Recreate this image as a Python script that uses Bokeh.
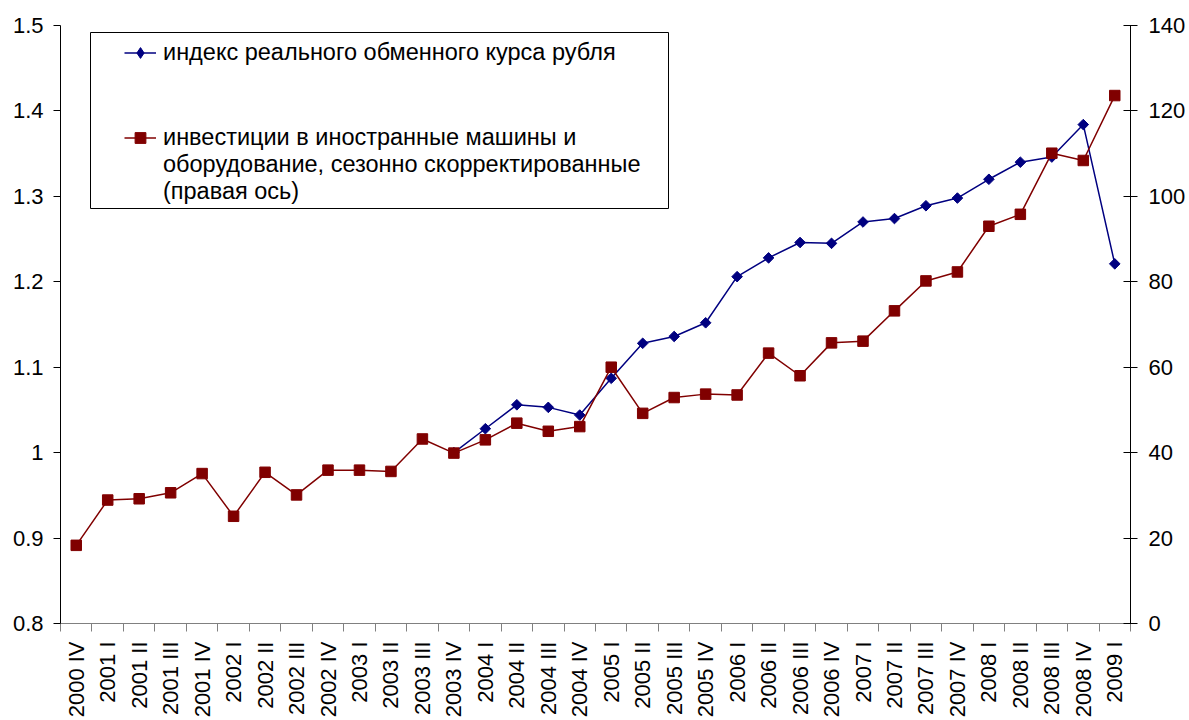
import numpy as np
from bokeh.plotting import figure
from bokeh.models import (Range1d, LinearAxis, FixedTicker, CustomJSTickFormatter,
                          Legend, LegendItem, BoxAnnotation, ColumnDataSource)
from bokeh.embed import file_html
from bokeh.resources import INLINE

quarters = ["2000 IV",
            "2001 I", "2001 II", "2001 III", "2001 IV",
            "2002 I", "2002 II", "2002 III", "2002 IV",
            "2003 I", "2003 II", "2003 III", "2003 IV",
            "2004 I", "2004 II", "2004 III", "2004 IV",
            "2005 I", "2005 II", "2005 III", "2005 IV",
            "2006 I", "2006 II", "2006 III", "2006 IV",
            "2007 I", "2007 II", "2007 III", "2007 IV",
            "2008 I", "2008 II", "2008 III", "2008 IV",
            "2009 I"]

rer_index = [None, None, None, None, None, None, None, None, None, None, None, None,
             1.000, 1.028, 1.056, 1.053, 1.044, 1.087, 1.128, 1.136, 1.152,
             1.206, 1.228, 1.246, 1.245, 1.270, 1.274, 1.289, 1.298,
             1.320, 1.340, 1.346, 1.384, 1.221]

invest = [18.3, 28.9, 29.2, 30.6, 35.1, 25.1, 35.4, 30.1, 35.9, 35.9, 35.6, 43.2, 39.9,
          43.0, 46.9, 45.0, 46.1, 60.0, 49.2, 52.9, 53.7, 53.5, 63.3, 58.0, 65.7,
          66.1, 73.2, 80.2, 82.3, 93.0, 95.8, 110.1, 108.4, 123.6]

left_ticks = [0.8, 0.9, 1.0, 1.1, 1.2, 1.3, 1.4, 1.5]
right_ticks = [0, 20, 40, 60, 80, 100, 120, 140]

label_blue = "индекс реального обменного курса рубля"
label_red_1 = "инвестиции в иностранные машины и"
label_red_2 = "оборудование, сезонно скорректированные\n(правая ось)"

FONT = "Liberation Sans"
FS = "22px"
LFS = "23.5px"

xs = list(range(len(quarters)))
blue_vals = [np.nan if v is None else v for v in rer_index]
src_b = ColumnDataSource(dict(x=xs, y=blue_vals))
src_r = ColumnDataSource(dict(x=xs, y=invest))

p = figure(width=1189, height=720, output_backend="svg", toolbar_location=None,
           x_range=Range1d(-0.5, len(quarters) - 0.5), y_range=Range1d(0.8, 1.5),
           min_border_left=60, min_border_right=59, min_border_top=25, min_border_bottom=97,
           x_axis_type=None, y_axis_type=None)
p.outline_line_color = None
p.extra_y_ranges = {"right": Range1d(0, 140)}

# Left axis
yl = LinearAxis(ticker=FixedTicker(ticks=left_ticks, minor_ticks=[]),
                formatter=CustomJSTickFormatter(code="return String(Math.round(tick*10)/10)"))
yl.axis_line_color = "black"
yl.major_tick_line_color = "black"
yl.major_tick_out = 7
yl.major_tick_in = 0
yl.major_label_standoff = 10
yl.major_label_text_font = FONT
yl.major_label_text_font_size = FS
yl.major_label_text_color = "black"
p.add_layout(yl, "left")

# Right axis
yr = LinearAxis(y_range_name="right", ticker=FixedTicker(ticks=right_ticks, minor_ticks=[]))
yr.axis_line_color = "black"
yr.major_tick_line_color = "black"
yr.major_tick_out = 7
yr.major_tick_in = 7
yr.major_label_standoff = 11
yr.major_label_text_font = FONT
yr.major_label_text_font_size = FS
yr.major_label_text_color = "black"
p.add_layout(yr, "right")

# Bottom axis
xa = LinearAxis(ticker=FixedTicker(ticks=xs, minor_ticks=[i - 0.5 for i in range(len(quarters) + 1)]),
                formatter=CustomJSTickFormatter(args=dict(labels=quarters),
                                                code="return labels[Math.round(tick)] || ''"))
xa.axis_line_color = "#808080"
xa.major_tick_out = 0
xa.major_tick_in = 0
xa.minor_tick_out = 8
xa.minor_tick_in = 0
xa.minor_tick_line_color = "#808080"
xa.major_label_orientation = np.pi / 2
xa.major_label_standoff = 10
xa.major_label_text_font = FONT
xa.major_label_text_font_size = FS
xa.major_label_text_color = "black"
p.add_layout(xa, "below")

# Grid
p.ygrid.ticker = FixedTicker(ticks=left_ticks)
p.ygrid.grid_line_color = "#8c8c8c"
p.ygrid.grid_line_width = 1
p.xgrid.visible = False

# Series
BLUE = "#000080"
RED = "#800000"
lb = p.line("x", "y", source=src_b, color=BLUE, line_width=1.5)
mb = p.scatter("x", "y", source=src_b, marker="square", angle=np.pi / 4, size=7.5, color=BLUE)
lr = p.line("x", "y", source=src_r, color=RED, line_width=1.5, y_range_name="right")
mr = p.scatter("x", "y", source=src_r, marker="square", size=10.5, color=RED, y_range_name="right")
# legend-only helpers (hidden in the plot)
legend_diamond = p.scatter("x", "y", source=src_b, marker="diamond", color=BLUE, visible=False)
dummy = p.line("x", "y", source=src_r, line_alpha=0, visible=False, y_range_name="right")

# Legend frame
box = BoxAnnotation(left=30, right=608, top=591, bottom=415,
                    left_units="screen", right_units="screen",
                    top_units="screen", bottom_units="screen",
                    fill_color="white", fill_alpha=1.0,
                    line_color="black", line_width=1, line_alpha=1.0)
p.add_layout(box)

common = dict(padding=0, spacing=0, margin=0,
              glyph_width=32, glyph_height=27, label_height=27,
              label_standoff=7,
              border_line_alpha=0, background_fill_alpha=0,
              label_text_font=FONT, label_text_font_size=LFS,
              label_text_color="black")

legend_a = Legend(items=[LegendItem(label=label_blue, renderers=[lb, legend_diamond])],
                  location=(64, 557), **common)
legend_b = Legend(items=[LegendItem(label=label_red_1, renderers=[lr, mr]),
                         LegendItem(label=label_red_2, renderers=[dummy])],
                  location=(64, 418), **common)
p.add_layout(legend_a)
p.add_layout(legend_b)

open("out.html", "w").write(file_html(p, INLINE))
